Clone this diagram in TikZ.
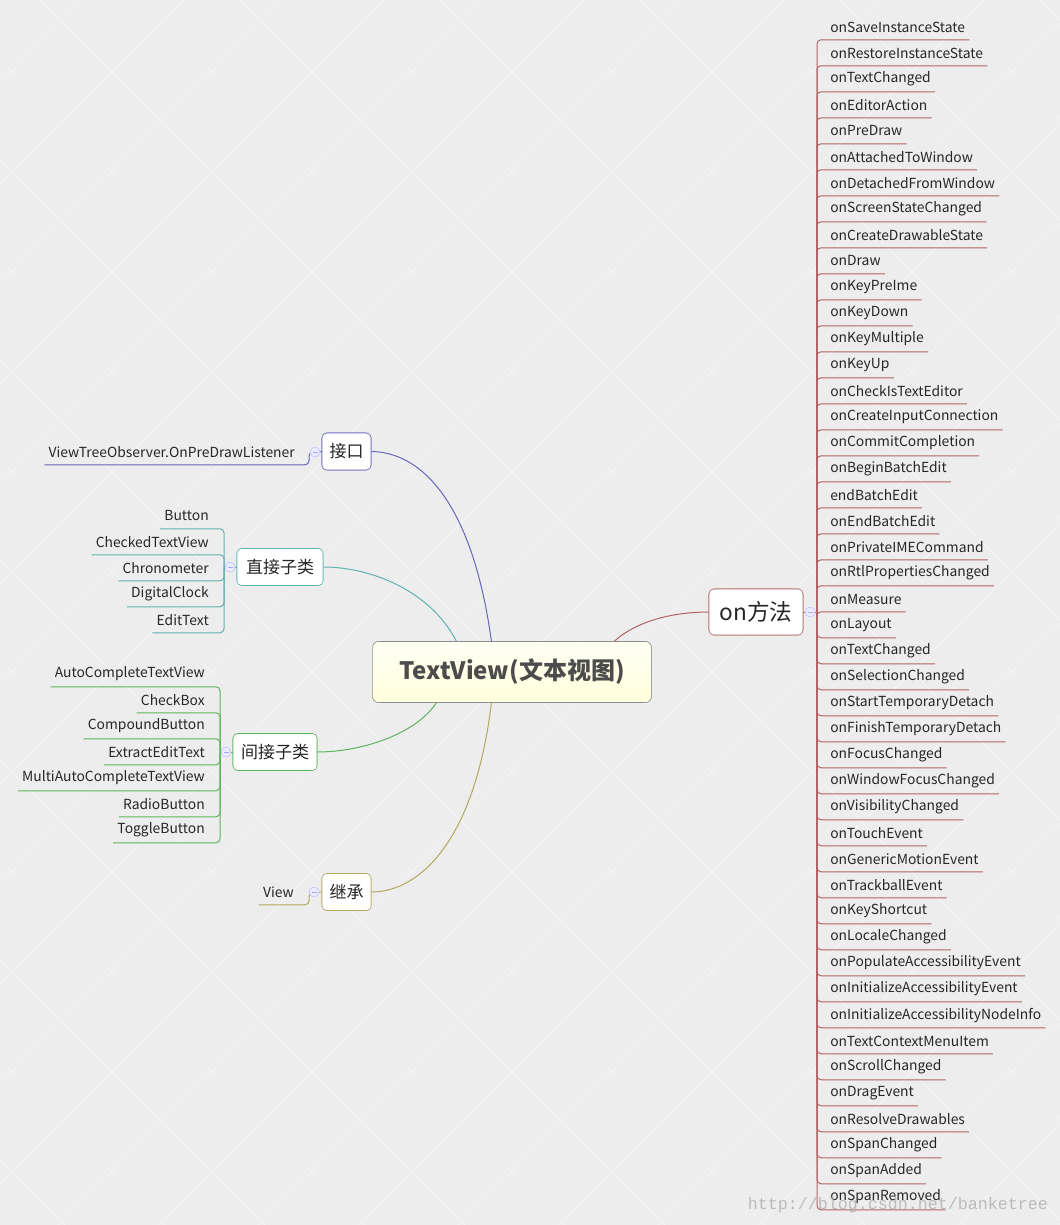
\documentclass[tikz,border=0pt]{standalone}
\usepackage{fontspec}
\setmainfont{Noto Sans CJK SC}
\newfontfamily\markfont{Liberation Mono}
\usetikzlibrary{calc,positioning}

\begin{document}
\begin{tikzpicture}[x=0.75pt,y=-0.75pt]
			\tikzstyle{Root}	= [draw=black!45, rounded corners=4.5pt, top color=yellow!4, bottom color=yellow!14, minimum width=209pt, minimum height=45.75pt, font=\fontsize{18}{20}\selectfont\bfseries, text=black!70]
			\tikzstyle{Topic}	= [draw, fill=white, rounded corners=3.5pt, minimum height=27.75pt, inner xsep=0pt, font=\fontsize{12.75}{14}\selectfont, text=black!85]
			\tikzstyle{Leaf}	= [inner xsep=3pt, inner ysep=0pt, minimum height=18.75pt, font=\fontsize{10.4}{12}\selectfont, text=black!85]
			\tikzstyle{Fold}	= [circle, draw=blue!25, fill=blue!8, minimum size=7.5pt, inner sep=0pt, path picture={\draw [blue!35, line width=0.5pt] ($(path picture bounding box.center)+(-2.5,0)$) -- ++(5,0);}]
			\tikzstyle{Branch}	= [rounded corners=3pt, line width=0.75pt]
			\tikzstyle{Curve}	= [line width=0.75pt]
			\tikzstyle{Purple}	= [draw={rgb,255:red,102;green,102;blue,187}]
			\tikzstyle{Teal}	= [draw={rgb,255:red,95;green,179;blue,174}]
			\tikzstyle{Green}	= [draw={rgb,255:red,93;green,179;blue,93}]
			\tikzstyle{Olive}	= [draw={rgb,255:red,176;green,170;blue,92}]
			\tikzstyle{Red}		= [draw={rgb,255:red,176;green,100;blue,100}]

			% background
			\useasboundingbox (0,0) rectangle (1060,1225);
			\fill [black!7] (0,0) rectangle (1060,1225);
			\begin{scope}
				\clip (0,0) rectangle (1060,1225);
				\foreach \k in {-1,...,23} \draw [white, opacity=0.5, line width=0.5pt] ({83.3+100*\k},0) -- ({83.3+100*\k-1225},1225);
				\foreach \k in {-13,...,11} \draw [white, opacity=0.5, line width=0.5pt] ({40+100*\k},0) -- ({40+100*\k+1225},1225);
			\end{scope}

			\node (c) at (512,672) [Root] {TextView(文本视图)};
			\node (o) at (756,612) [Topic][Red, minimum width=70.5pt, minimum height=34.5pt, font=\fontsize{17}{19}\selectfont] {on方法};
			\node (t1) at (346.5,451.5) [Topic][Purple, minimum width=36.75pt] {接口};
			\node (t2) at (280,567) [Topic][Teal, minimum width=64.5pt] {直接子类};
			\node (t3) at (275,752) [Topic][Green, minimum width=63pt] {间接子类};
			\node (t4) at (346.5,892) [Topic][Olive, minimum width=36.75pt] {继承};

			% curves from the root
			\draw [Curve][Purple] ($(c.north west)+(119,0)$) .. controls (472,500) and (420,452) .. (t1.east);
			\draw [Curve][Teal] ($(c.north west)+(84,0)$) .. controls (430,590) and (370,567) .. (t2.east);
			\draw [Curve][Green] ($(c.south west)+(64,0)$) .. controls (415,735) and (360,752) .. (t3.east);
			\draw [Curve][Olive] ($(c.south west)+(119,0)$) .. controls (475,840) and (420,892) .. (t4.east);
			\draw [Curve][Red] ($(c.north west)+(242,0)$) .. controls (640,618) and (680,612) .. (o.west);

			% redraw boxes over the curves
			\node at (c) [Root] {TextView(文本视图)};
			\node at (o) [Topic][Red, minimum width=70.5pt, minimum height=34.5pt, font=\fontsize{17}{19}\selectfont] {on方法};
			\node at (t1) [Topic][Purple, minimum width=36.75pt] {接口};
			\node at (t2) [Topic][Teal, minimum width=64.5pt] {直接子类};
			\node at (t3) [Topic][Green, minimum width=63pt] {间接子类};
			\node at (t4) [Topic][Olive, minimum width=36.75pt] {继承};

			\coordinate (h0) at (817,612);
			\coordinate (h1) at (309,452);
			\coordinate (h2) at (224,567);
			\coordinate (h3) at (220,752);
			\coordinate (h4) at (309,892);

			% on methods
			\foreach \name [count=\i from 0] in {onSaveInstanceState, onRestoreInstanceState, onTextChanged, onEditorAction, onPreDraw, onAttachedToWindow, onDetachedFromWindow, onScreenStateChanged, onCreateDrawableState, onDraw, onKeyPreIme, onKeyDown, onKeyMultiple, onKeyUp, onCheckIsTextEditor, onCreateInputConnection, onCommitCompletion, onBeginBatchEdit, endBatchEdit, onEndBatchEdit, onPrivateIMECommand, onRtlPropertiesChanged, onMeasure, onLayout, onTextChanged, onSelectionChanged, onStartTemporaryDetach, onFinishTemporaryDetach, onFocusChanged, onWindowFocusChanged, onVisibilityChanged, onTouchEvent, onGenericMotionEvent, onTrackballEvent, onKeyShortcut, onLocaleChanged, onPopulateAccessibilityEvent, onInitializeAccessibilityEvent, onInitializeAccessibilityNodeInfo, onTextContextMenuItem, onScrollChanged, onDragEvent, onResolveDrawables, onSpanChanged, onSpanAdded, onSpanRemoved} {
				\node (m\i) at (826,{27+26*\i}) [Leaf, anchor=west] {\name};
				\draw [Branch][Red] (h0) |- (m\i.south east);
			}
			\draw [Branch][Red] (o.east) -- (h0);

			% interface
			\node (i0) at (299,452) [Leaf, anchor=east] {ViewTreeObserver.OnPreDrawListener};
			\draw [Branch][Purple] (t1.west) -- (h1) |- (i0.south west);

			% direct subclasses
			\foreach \name [count=\i from 0] in {Button, CheckedTextView, Chronometer, DigitalClock, EditText} {
				\node (d\i) at (213,{516+26*\i}) [Leaf, anchor=east] {\name};
				\draw [Branch][Teal] (h2) |- (d\i.south west);
			}
			\draw [Branch][Teal] (t2.west) -- (h2);

			% indirect subclasses
			\foreach \name [count=\i from 0] in {AutoCompleteTextView, CheckBox, CompoundButton, ExtractEditText, MultiAutoCompleteTextView, RadioButton, ToggleButton} {
				\node (n\i) at (209,{674+26*\i}) [Leaf, anchor=east] {\name};
				\draw [Branch][Green] (h3) |- (n\i.south west);
			}
			\draw [Branch][Green] (t3.west) -- (h3);

			% inheritance
			\node (p0) at (298,892) [Leaf, anchor=east] {View};
			\draw [Branch][Olive] (t4.west) -- (h4) |- (p0.south west);

			\node (f0) at (810,612) [Fold] {};
			\node (f1) at (315,452) [Fold] {};
			\node (f2) at (230,567) [Fold] {};
			\node (f3) at (226,752) [Fold] {};
			\node (f4) at (314,892) [Fold] {};

			\node (wm) at (898,1205) [font=\markfont\fontsize{12.5}{13}\selectfont, text=black!30, opacity=0.85] {http://blog.csdn.net/banketree};
		\end{tikzpicture}
\end{document}
